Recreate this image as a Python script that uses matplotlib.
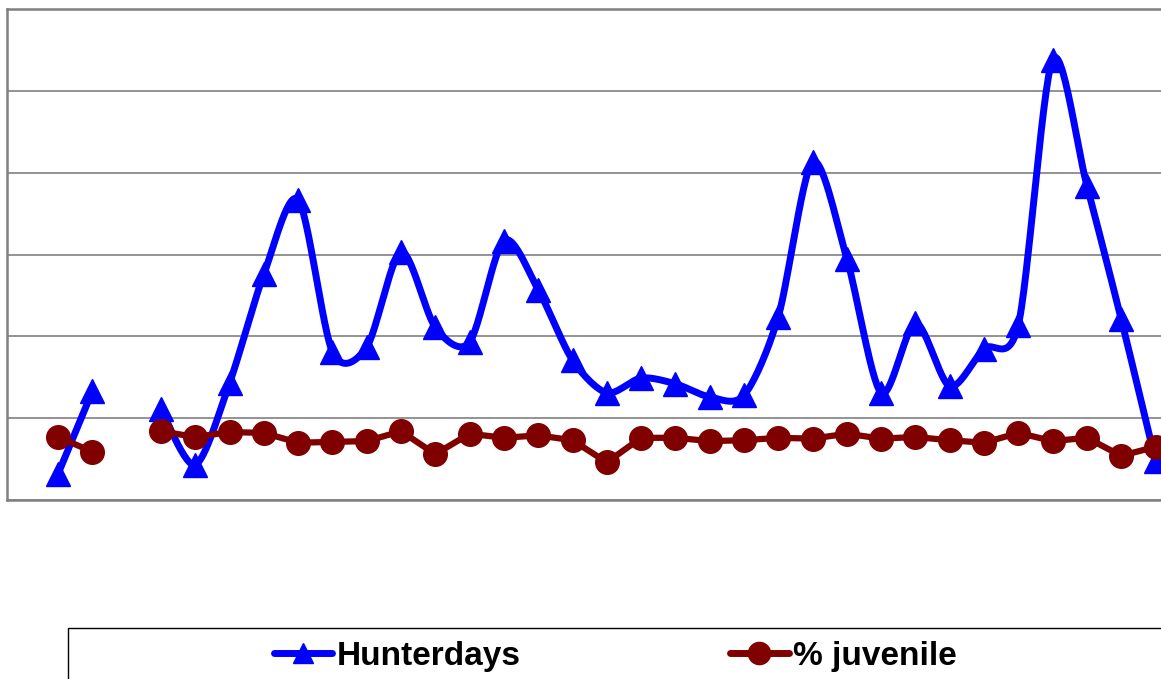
import numpy as np
import matplotlib
matplotlib.use("Agg")
from matplotlib import pyplot as plt
from matplotlib.patches import Rectangle

# data (y axis has no labels; one gridline = 10 units)
hunterdays = [3.2, 13.3, None, 11.1, 4.3, 14.3, 27.6, 36.7, 18.1, 18.7,
              30.3, 21.1, 19.3, 31.7, 25.7, 17.1, 13.1, 14.9, 14.2, 12.6,
              12.8, 22.4, 41.3, 29.5, 13.1, 21.6, 13.9, 18.5, 21.4, 53.8,
              38.4, 22.1, 4.8]
juvenile = [7.7, 5.9, None, 8.4, 7.7, 8.3, 8.2, 7.0, 7.1, 7.2,
            8.4, 5.6, 8.1, 7.6, 7.9, 7.3, 4.6, 7.6, 7.6, 7.2,
            7.3, 7.6, 7.5, 8.1, 7.5, 7.7, 7.3, 7.0, 8.2, 7.2,
            7.6, 5.4, 6.5]
labels = ["Hunterdays", "% juvenile"]

BLUE = "#0000ff"
RED = "#800000"
GREY = "#808080"


def split_runs(vals):
    "Return lists of (x, y) runs broken at the missing values"
    runs, cur = [], []
    for i, v in enumerate(vals):
        if v is None:
            if cur:
                runs.append(cur)
            cur = []
        else:
            cur.append((i, v))
    if cur:
        runs.append(cur)
    return runs


def smooth(run, n=30, k=7.0):
    "Bezier curve through the points of one run (like Excel smoothing)"
    pts = np.array(run, dtype=float)
    if len(pts) < 3:
        return pts[:, 0], pts[:, 1]
    p = np.vstack([pts[0], pts, pts[-1]])
    xs, ys = [], []
    t = np.linspace(0, 1, n)
    for j in range(1, len(p) - 2):
        p0, p1, p2, p3 = p[j - 1], p[j], p[j + 1], p[j + 2]
        c1 = p1 + (p2 - p0) / k
        c2 = p2 - (p3 - p1) / k
        seg = ((1 - t) ** 3)[:, None] * p1 + (3 * (1 - t) ** 2 * t)[:, None] * c1 \
            + (3 * (1 - t) * t ** 2)[:, None] * c2 + (t ** 3)[:, None] * p2
        xs.append(seg[:, 0])
        ys.append(seg[:, 1])
    return np.concatenate(xs), np.concatenate(ys)


fig = plt.figure(figsize=(11.61, 6.79), dpi=100)
ax = fig.add_axes([7 / 1161, 179 / 679, 1 - 7 / 1161, 491 / 679])

for run in split_runs(hunterdays):
    sx, sy = smooth(run)
    ax.plot(sx, sy, color=BLUE, lw=5, solid_capstyle="round", zorder=3)
    rx, ry = zip(*run)
    ax.plot(rx, ry, ls="none", marker="^", ms=17, color=BLUE, zorder=3)

for run in split_runs(juvenile):
    rx, ry = zip(*run)
    ax.plot(rx, ry, color=RED, lw=4.5, marker="o", ms=17, zorder=4)

ax.set_xlim(-1.49, 32.16)
ax.set_ylim(0, 60)
ax.set_yticks(np.arange(0, 61, 10))
ax.set_xticks([])
ax.tick_params(left=False, labelleft=False)
ax.grid(axis="y", color=GREY, lw=1.2)
ax.set_axisbelow(True)
for side in ["left", "top", "bottom"]:
    ax.spines[side].set_color(GREY)
    ax.spines[side].set_linewidth(1.8)
ax.spines["right"].set_visible(False)

# legend box runs past the right and bottom edges
fig.patches.append(Rectangle((68 / 1161, -0.1), 1.0, 1 - 628 / 679 + 0.1,
                             transform=fig.transFigure, fill=False,
                             edgecolor="black", lw=1))
h1, = ax.plot([], [], color=BLUE, lw=5, marker="^", ms=14, solid_capstyle="round")
h2, = ax.plot([], [], color=RED, lw=5, marker="o", ms=16, solid_capstyle="round")
fig.legend([h1, h2], labels, loc="center left",
           bbox_to_anchor=(274 / 1161, 1 - 656 / 679), ncol=2, frameon=False,
           prop={"family": "Liberation Sans", "weight": "bold", "size": 24},
           handlelength=1.75, handletextpad=0.12, columnspacing=6.3,
           borderpad=0, borderaxespad=0)

fig.savefig("out.png", dpi=100)
